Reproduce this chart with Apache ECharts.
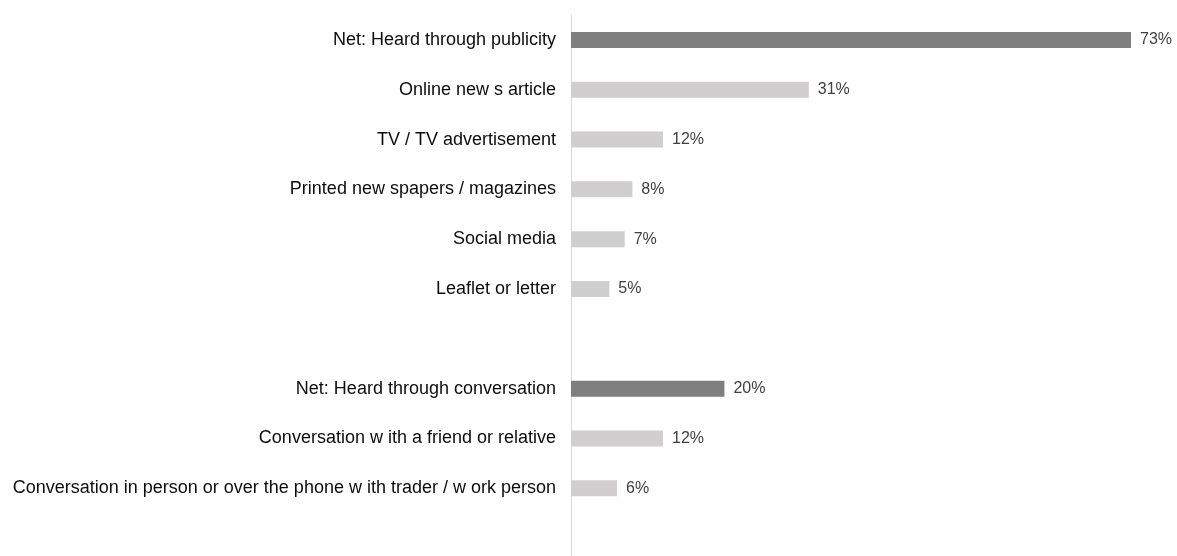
<!DOCTYPE html>
<html>
<head>
<meta charset="utf-8">
<script src="https://cdn.jsdelivr.net/npm/echarts@6/dist/echarts.min.js"></script>
<style>
  html, body { margin: 0; padding: 0; background: #ffffff; }
  #chart { width: 1177px; height: 556px; }
</style>
</head>
<body>
<div id="chart"></div>
<script>
// Sources through which people heard about it (% of respondents)
const categories = [
  'Net: Heard through publicity',
  'Online new s article',
  'TV / TV advertisement',
  'Printed new spapers / magazines',
  'Social media',
  'Leaflet or letter',
  ' ',
  'Net: Heard through conversation',
  'Conversation w ith a friend or relative',
  'Conversation in person or over the phone w ith trader / w ork person',
  '  '
];
const values = [73, 31, 12, 8, 7, 5, null, 20, 12, 6, null];
const netRows = ['Net: Heard through publicity', 'Net: Heard through conversation'];

const NET_COLOR = '#7f7f7f';
const ITEM_COLOR = '#d0cece';

const chart = echarts.init(document.getElementById('chart'), null, { renderer: 'canvas' });

const seriesData = categories.map((name, i) => ({
  value: values[i],
  itemStyle: { color: netRows.includes(name) ? NET_COLOR : ITEM_COLOR }
}));

chart.setOption({
  animation: false,
  backgroundColor: '#ffffff',
  grid: {
    left: 571, top: 15, width: 560, height: 548,
    containLabel: false,
    outerBoundsMode: 'none'
  },
  xAxis: {
    type: 'value',
    min: 0,
    max: 73,
    show: false
  },
  yAxis: {
    type: 'category',
    data: categories,
    inverse: true,
    axisLine: { show: true, lineStyle: { color: '#d9d9d9', width: 1 } },
    axisTick: { show: false },
    splitLine: { show: false },
    axisLabel: {
      color: '#0d0d0d',
      fontFamily: 'Liberation Sans, Arial, sans-serif',
      fontSize: 18,
      margin: 15
    }
  },
  series: [{
    type: 'bar',
    data: seriesData,
    barWidth: 16,
    label: {
      show: true,
      position: 'right',
      distance: 9,
      formatter: p => p.value == null ? '' : p.value + '%',
      color: '#404040',
      fontFamily: 'Liberation Sans, Arial, sans-serif',
      fontSize: 16
    }
  }]
});
</script>
</body>
</html>
